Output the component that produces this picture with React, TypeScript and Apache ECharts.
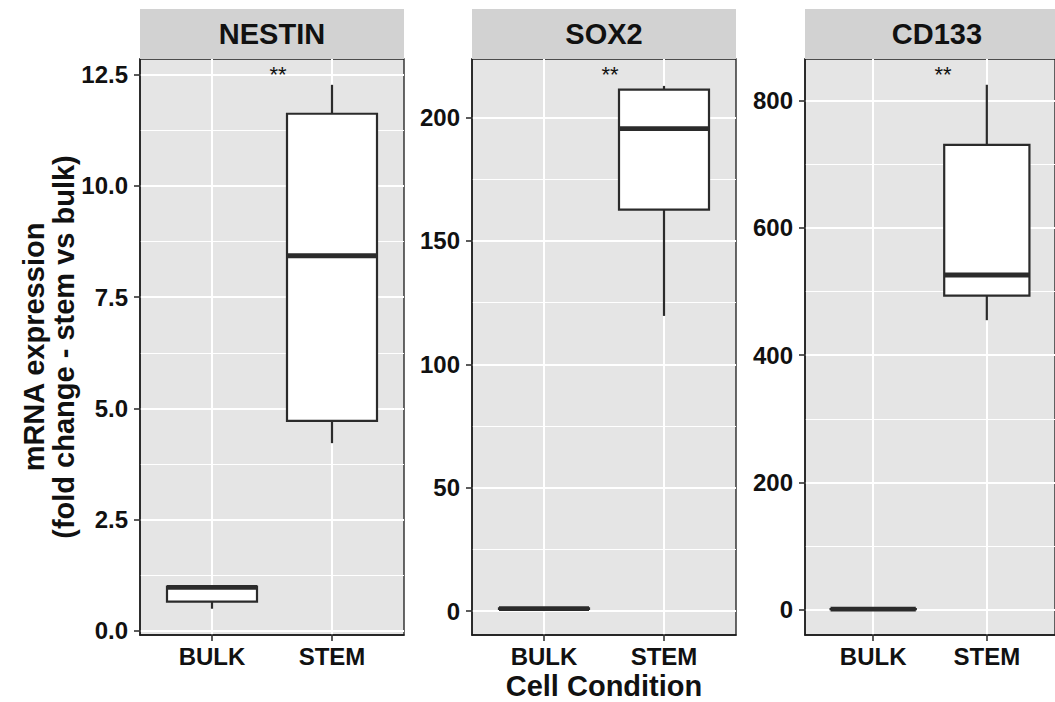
import React, { useEffect, useRef } from "react";
import * as echarts from "echarts";

// ---- data ----
const categories = ["BULK", "STEM"];
const genes = ["NESTIN", "SOX2", "CD133"];
// box stats: [min, q1, median, q3, max]
const nestinBulk = [0.5, 0.66, 0.98, 1.0, 1.0];
const nestinStem = [4.22, 4.72, 8.43, 11.62, 12.27];
const sox2Bulk = [0.6, 0.9, 1.0, 1.1, 1.4];
const sox2Stem = [119.6, 162.7, 195.5, 211.3, 212.8];
const cd133Bulk = [0.5, 0.9, 1.0, 1.1, 1.5];
const cd133Stem = [455, 493.5, 526, 730.5, 825];

const nestinTicks = [0, 2.5, 5, 7.5, 10, 12.5];
const nestinMinor = [1.25, 3.75, 6.25, 8.75, 11.25];
const sox2Ticks = [0, 50, 100, 150, 200];
const sox2Minor = [25, 75, 125, 175];
const cd133Ticks = [0, 200, 400, 600, 800];
const cd133Minor = [100, 300, 500, 700];

const yMins = [-0.09, -9.7, -39.8];
const yMaxs = [12.85, 223.7, 865.5];
const significance = ["**", "**", "**"];
const yTitle = "mRNA expression\n(fold change - stem vs bulk)";
const xTitle = "Cell Condition";

const FONT = "'Liberation Sans', Arial, Helvetica, sans-serif";

export default function App() {
  const ref = useRef<HTMLDivElement>(null);
  useEffect(() => {
    if (!ref.current) return;
    const chart = echarts.init(ref.current, undefined, { renderer: "svg" });

    const boxes = [
      [nestinBulk, nestinStem],
      [sox2Bulk, sox2Stem],
      [cd133Bulk, cd133Stem],
    ];
    const majors = [nestinTicks, sox2Ticks, cd133Ticks];
    const minors = [nestinMinor, sox2Minor, cd133Minor];
    const fmt = [
      (v: number) => v.toFixed(1),
      (v: number) => String(Math.round(v)),
      (v: number) => String(Math.round(v)),
    ];

    const lefts = [140, 472, 805];
    const top = 59;
    const width = 264;
    const height = 576;
    const HALF = 0.375;
    const stroke = "#2b2b2b";

    const grid: any[] = [];
    const xAxis: any[] = [];
    const yAxis: any[] = [];
    const series: any[] = [];
    const graphic: any[] = [];

    for (let i = 0; i < 3; i++) {
      grid.push({
        left: lefts[i],
        top,
        width,
        height,
        show: true,
        backgroundColor: "#E5E5E5",
        borderColor: "#1a1a1a",
        borderWidth: 1.3,
      });
      xAxis.push({
        type: "value",
        gridIndex: i,
        min: 0.4,
        max: 2.6,
        axisLine: { show: true, onZero: false, lineStyle: { color: "#1a1a1a", width: 1.5 } },
        axisTick: {
          show: true,
          customValues: [1, 2],
          length: 6,
          lineStyle: { color: "#333", width: 1.6 },
        },
        axisLabel: {
          customValues: [1, 2],
          formatter: (v: number) => categories[Math.round(v) - 1],
          fontFamily: FONT,
          fontWeight: "bold",
          fontSize: 24,
          color: "#111",
          margin: 9,
        },
        splitLine: { show: true, lineStyle: { color: "#ffffff", width: 2 } },
      });
      // main y axis
      yAxis.push({
        type: "value",
        gridIndex: i,
        min: yMins[i],
        max: yMaxs[i],
        axisLine: { show: true, onZero: false, lineStyle: { color: "#1a1a1a", width: 1.5 } },
        axisTick: {
          show: true,
          customValues: majors[i],
          length: 6,
          lineStyle: { color: "#333", width: 1.6 },
        },
        axisLabel: {
          customValues: majors[i],
          formatter: fmt[i],
          fontFamily: FONT,
          fontWeight: "bold",
          fontSize: 24,
          color: "#111",
          margin: 12,
        },
        splitLine: { show: true, lineStyle: { color: "#ffffff", width: 2 } },
      });
      // minor grid y axis
      yAxis.push({
        type: "value",
        gridIndex: i,
        min: yMins[i],
        max: yMaxs[i],
        position: "left",
        axisLine: { show: false },
        axisTick: { show: false, customValues: minors[i] },
        axisLabel: { show: false, customValues: minors[i] },
        splitLine: { show: true, lineStyle: { color: "#ffffff", width: 1 } },
      });

      const data = boxes[i].map((b, k) => [k + 1, ...b]);
      series.push({
        type: "custom",
        xAxisIndex: i,
        yAxisIndex: i * 2,
        data,
        encode: { x: 0, y: [1, 2, 3, 4, 5] },
        z: 5,
        renderItem: (params: any, api: any) => {
          const x = api.value(0);
          const mn = api.value(1);
          const q1 = api.value(2);
          const md = api.value(3);
          const q3 = api.value(4);
          const mx = api.value(5);
          const pMin = api.coord([x, mn]);
          const pMax = api.coord([x, mx]);
          const lq1 = api.coord([x - HALF, q1]);
          const rq3 = api.coord([x + HALF, q3]);
          const lm = api.coord([x - HALF, md]);
          const rm = api.coord([x + HALF, md]);
          return {
            type: "group",
            children: [
              {
                type: "line",
                shape: { x1: pMin[0], y1: pMin[1], x2: pMin[0], y2: lq1[1] },
                style: { stroke, lineWidth: 2.2 },
              },
              {
                type: "line",
                shape: { x1: pMax[0], y1: rq3[1], x2: pMax[0], y2: pMax[1] },
                style: { stroke, lineWidth: 2.2 },
              },
              {
                type: "rect",
                shape: {
                  x: lq1[0],
                  y: rq3[1],
                  width: rq3[0] - lq1[0],
                  height: lq1[1] - rq3[1],
                },
                style: { fill: "#ffffff", stroke, lineWidth: 2.2 },
              },
              {
                type: "line",
                shape: { x1: lm[0], y1: lm[1], x2: rm[0], y2: rm[1] },
                style: { stroke, lineWidth: 4.8 },
              },
            ],
          };
        },
      });

      // strip
      graphic.push({
        type: "rect",
        shape: { x: lefts[i], y: 9, width, height: top - 9 },
        style: { fill: "#D2D2D2" },
        z: 1,
      });
      graphic.push({
        type: "text",
        x: lefts[i] + width / 2,
        y: 34,
        style: {
          text: genes[i],
          fontFamily: FONT,
          fontWeight: "bold",
          fontSize: 29,
          fill: "#111",
          textAlign: "center",
          textVerticalAlign: "middle",
        },
        z: 2,
      });
      // significance stars
      graphic.push({
        type: "text",
        x: lefts[i] + width / 2 + 6,
        y: 74,
        style: {
          text: significance[i],
          fontFamily: FONT,
          fontSize: 22,
          fill: "#111",
          textAlign: "center",
          textVerticalAlign: "middle",
        },
        z: 10,
      });
    }

    graphic.push({
      type: "text",
      x: 49,
      y: 347,
      rotation: Math.PI / 2,
      style: {
        text: yTitle,
        fontFamily: FONT,
        fontWeight: "bold",
        fontSize: 29,
        lineHeight: 30,
        fill: "#111",
        textAlign: "center",
        textVerticalAlign: "middle",
      },
    });
    graphic.push({
      type: "text",
      x: 604,
      y: 686,
      style: {
        text: xTitle,
        fontFamily: FONT,
        fontWeight: "bold",
        fontSize: 29,
        lineHeight: 29,
        fill: "#111",
        textAlign: "center",
        textVerticalAlign: "middle",
      },
    });

    chart.setOption({
      animation: false,
      backgroundColor: "#ffffff",
      grid,
      xAxis,
      yAxis,
      series,
      graphic,
    });
    return () => chart.dispose();
  }, []);

  return (
    <div
      ref={ref}
      style={{ position: "fixed", left: 0, top: 0, width: 1055, height: 702 }}
    />
  );
}
